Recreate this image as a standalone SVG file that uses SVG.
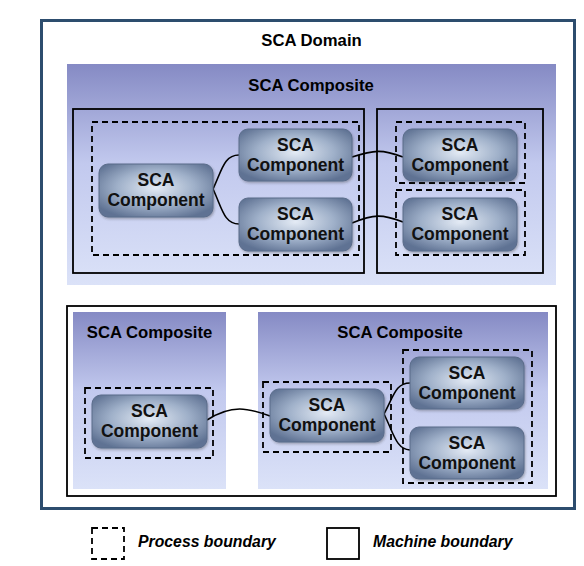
<svg xmlns="http://www.w3.org/2000/svg" width="584" height="566" viewBox="0 0 584 566">
<defs>
<linearGradient id="compG" x1="0" y1="0" x2="0" y2="1">
<stop offset="0" stop-color="#858ac4"/>
<stop offset="0.45" stop-color="#c2c9ee"/>
<stop offset="1" stop-color="#dbe2f8"/>
</linearGradient>
<radialGradient id="nodeG" cx="0.5" cy="0.45" r="0.62">
<stop offset="0" stop-color="#e4ebf5"/>
<stop offset="0.55" stop-color="#9fb0c9"/>
<stop offset="1" stop-color="#5f7293"/>
</radialGradient>
<filter id="sh" x="-10%" y="-10%" width="130%" height="130%">
<feDropShadow dx="1" dy="1.5" stdDeviation="1" flood-color="#333" flood-opacity="0.35"/>
</filter>
</defs>
<style>
.title{font-family:"Liberation Sans",Arial,sans-serif;font-weight:bold;font-size:16.7px;fill:#000;text-anchor:middle}
.lbl{font-family:"Liberation Sans",Arial,sans-serif;font-weight:bold;font-size:17.5px;fill:#111;text-anchor:middle}
.leg{font-family:"Liberation Sans",Arial,sans-serif;font-weight:bold;font-style:italic;font-size:15.8px;fill:#000}
.comp{fill:url(#compG)}
.node{fill:url(#nodeG);stroke:#5a6c8a;stroke-width:1;filter:url(#sh)}
.mach{fill:none;stroke:#000;stroke-width:1.8}
.proc{fill:none;stroke:#000;stroke-width:1.8;stroke-dasharray:6,4}
.conn{fill:none;stroke:#000;stroke-width:1.6}
</style>
<rect width="584" height="566" fill="#fff"/>
<g id="domain">
<rect x="41.5" y="20.5" width="533" height="488" fill="#fff" stroke="#2d4d6e" stroke-width="3"/>
<text class="title" x="311.5" y="46">SCA Domain</text>
</g>
<g id="composite-top">
<rect class="comp" x="67" y="64" width="489" height="221"/>
<text class="title" x="311" y="91">SCA Composite</text>
</g>
<g id="machine-1"><rect class="mach" x="73" y="109" width="291" height="164"/></g>
<g id="machine-2"><rect class="mach" x="377" y="109" width="166" height="164"/></g>
<g id="process-1"><rect class="proc" x="92" y="122" width="267" height="133"/></g>
<g id="process-2"><rect class="proc" x="396" y="122" width="129" height="61"/></g>
<g id="process-3"><rect class="proc" x="396" y="190" width="129" height="65"/></g>
<g id="machine-3"><rect x="67" y="306" width="489" height="190" fill="#fff" stroke="#000" stroke-width="1.8"/></g>
<g id="composite-bl">
<rect class="comp" x="73" y="312" width="153" height="177"/>
<text class="title" x="149.5" y="338">SCA Composite</text>
</g>
<g id="composite-br">
<rect class="comp" x="258" y="312" width="290" height="177"/>
<text class="title" x="400" y="338">SCA Composite</text>
</g>
<g id="process-4"><rect class="proc" x="85" y="388" width="128" height="70"/></g>
<g id="process-5"><rect class="proc" x="263" y="382" width="128" height="70"/></g>
<g id="process-6"><rect class="proc" x="403" y="350" width="129" height="133"/></g>
<g id="connectors">
<path class="conn" d="M213,189 C222,170 224,155 239,155"/>
<path class="conn" d="M213,189 C222,208 224,224 239,224"/>
<path class="conn" d="M352,157 C374,150 382,149 403,157"/>
<path class="conn" d="M352,223 C374,214 382,214 403,222"/>
<path class="conn" d="M207,420 C232,404 248,408 270,416"/>
<path class="conn" d="M384,414 C394,395 396,383 410,383"/>
<path class="conn" d="M384,414 C394,434 396,449 410,450"/>
</g>
<g id="c1"><rect class="node" x="99" y="164" width="114" height="53" rx="9"/><text class="lbl" x="156" y="186">SCA</text><text class="lbl" x="156" y="206">Component</text></g>
<g id="c2"><rect class="node" x="239" y="129" width="113" height="52" rx="9"/><text class="lbl" x="295.5" y="151">SCA</text><text class="lbl" x="295.5" y="171">Component</text></g>
<g id="c3"><rect class="node" x="239" y="198" width="113" height="53" rx="9"/><text class="lbl" x="295.5" y="220">SCA</text><text class="lbl" x="295.5" y="240">Component</text></g>
<g id="c4"><rect class="node" x="403" y="129" width="114" height="52" rx="9"/><text class="lbl" x="460" y="151">SCA</text><text class="lbl" x="460" y="171">Component</text></g>
<g id="c5"><rect class="node" x="403" y="198" width="114" height="53" rx="9"/><text class="lbl" x="460" y="220">SCA</text><text class="lbl" x="460" y="240">Component</text></g>
<g id="c6"><rect class="node" x="92" y="395" width="115" height="53" rx="9"/><text class="lbl" x="149.5" y="417">SCA</text><text class="lbl" x="149.5" y="437">Component</text></g>
<g id="c7"><rect class="node" x="270" y="389" width="114" height="53" rx="9"/><text class="lbl" x="327" y="411">SCA</text><text class="lbl" x="327" y="431">Component</text></g>
<g id="c8"><rect class="node" x="410" y="357" width="114" height="52" rx="9"/><text class="lbl" x="467" y="379">SCA</text><text class="lbl" x="467" y="399">Component</text></g>
<g id="c9"><rect class="node" x="410" y="427" width="114" height="52" rx="9"/><text class="lbl" x="467" y="449">SCA</text><text class="lbl" x="467" y="469">Component</text></g>
<g id="legend">
<rect class="proc" x="92" y="528" width="32" height="31"/>
<text class="leg" x="138" y="547">Process boundary</text>
<rect class="mach" x="327" y="528" width="32" height="31"/>
<text class="leg" x="373" y="547">Machine boundary</text>
</g>
</svg>
